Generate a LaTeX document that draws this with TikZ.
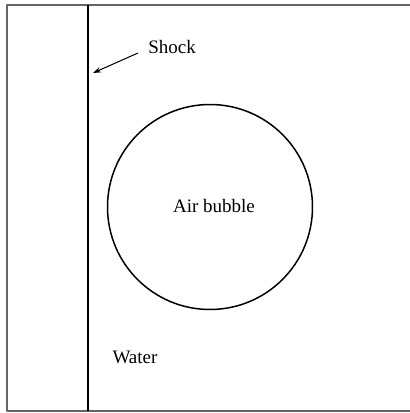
\documentclass[tikz,border=0pt]{standalone}
\usepackage{fontspec}
\setmainfont{Liberation Serif}
\usetikzlibrary{arrows.meta}
\begin{document}
\begin{tikzpicture}[x=1pt, y=-1pt, font=\fontsize{19}{21}\selectfont, line join=round, >={Stealth[length=8pt, width=5.5pt]}]
	\useasboundingbox (0,0) rectangle (410,413);
	% Khung
	\draw[gray!80!black, line width=1.3pt] (412,5) -- (7,5) -- (7,411) -- (412,411);
	% Song xung kich
	\coordinate (top) at (88,5);
	\coordinate (bot) at (88,411);
	\draw[line width=1.1pt] (top) -- (bot);
	% Bong khi
	\node[draw, circle, line width=1.5pt, minimum size=205pt, inner sep=0pt] (bubble) at (210,207) {};
	\node (air) at (214,206) {Air bubble};
	\node (shock) at (172,47) {Shock};
	\node (water) at (135,357) {Water};
	\coordinate (tail) at (138,53);
	\coordinate (tip) at (93,73);
	\draw[->, line width=1pt] (tail) -- (tip);
\end{tikzpicture}
\end{document}
